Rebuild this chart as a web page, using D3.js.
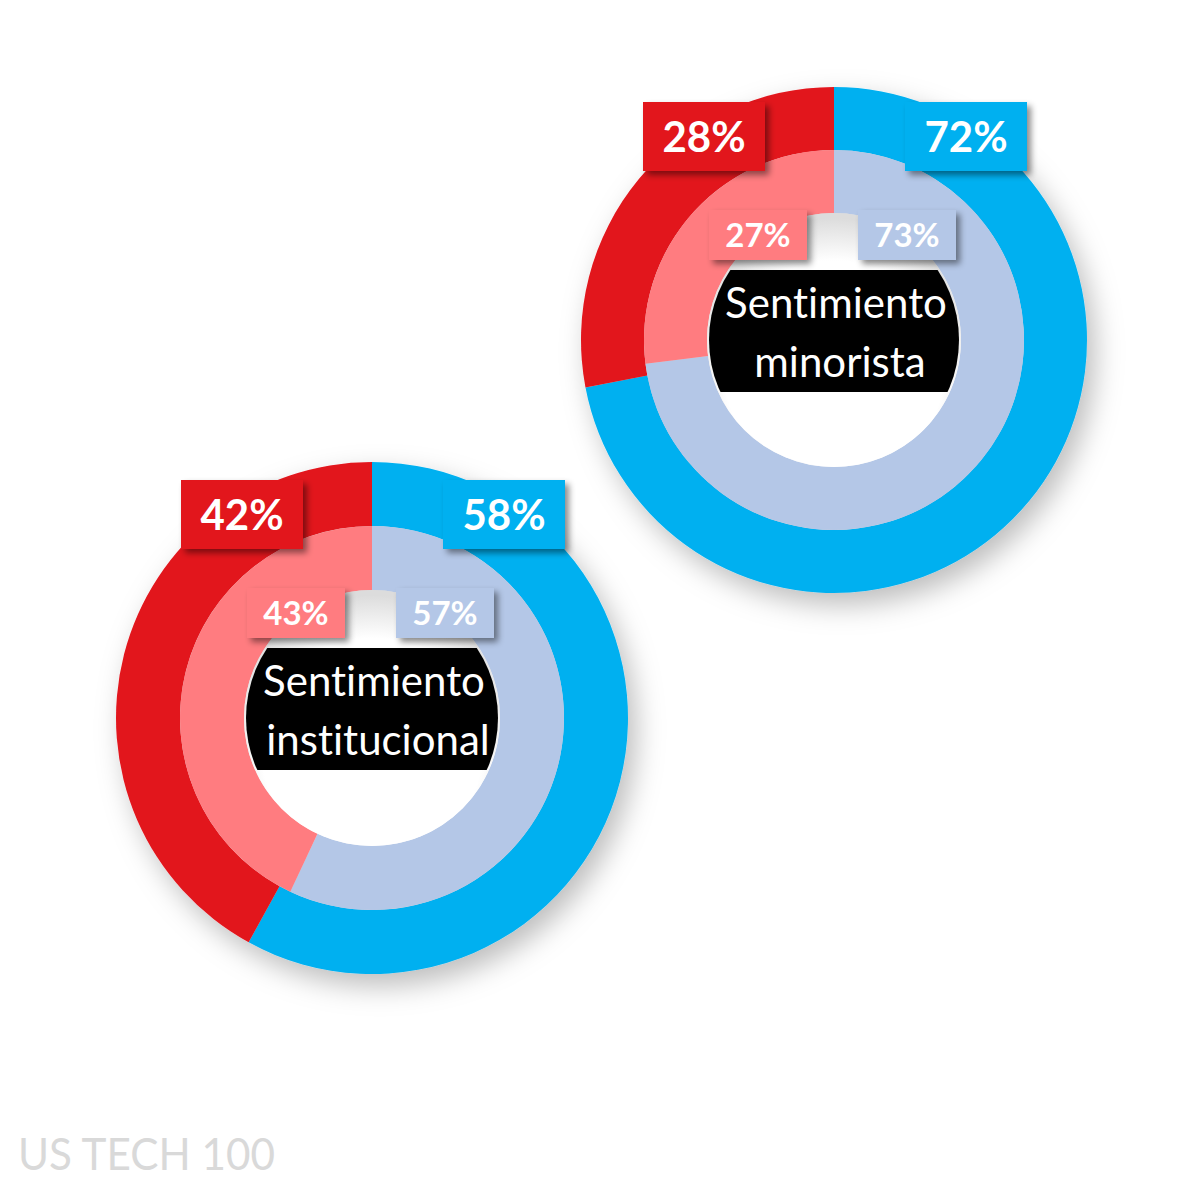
<!DOCTYPE html>
<html>
<head>
<meta charset="utf-8">
<script src="https://cdn.jsdelivr.net/npm/d3@7"></script>
<style>
  html, body { margin: 0; padding: 0; background: #fff; }
  svg { display: block; }
  text { font-variant-ligatures: none; font-feature-settings: "liga" 0, "clig" 0, "dlig" 0; }
</style>
</head>
<body>
<div id="chart"></div>
<script>
(function () {
  'use strict';

  // data
  const titles     = [['Sentimiento', 'minorista'], ['Sentimiento', 'institucional']];
  const outerSell  = [28, 42];
  const outerBuy   = [72, 58];
  const innerSell  = [27, 43];
  const innerBuy   = [73, 57];
  const footer     = 'US TECH 100';

  const W = 1181, H = 1181;
  const RED   = '#E2141C';
  const BLUE  = '#00B0F0';
  const PINK  = '#FF7C80';
  const LBLUE = '#B4C7E7';

  const CENTERS = [[834, 340], [372, 718]];
  const RADII   = [[253, 190, 127], [256, 192, 128]];

  const svg = d3.select('#chart').append('svg')
    .attr('width', W).attr('height', H)
    .attr('viewBox', `0 0 ${W} ${H}`);

  const defs = svg.append('defs');
  defs.append('filter').attr('id', 'ringShadow')
    .attr('x', '-30%').attr('y', '-30%').attr('width', '160%').attr('height', '160%')
    .append('feDropShadow')
    .attr('dx', 8).attr('dy', 12).attr('stdDeviation', 14)
    .attr('flood-color', '#000').attr('flood-opacity', 0.26);
  defs.append('filter').attr('id', 'boxShadow')
    .attr('x', '-20%').attr('y', '-20%').attr('width', '150%').attr('height', '160%')
    .append('feDropShadow')
    .attr('dx', 4).attr('dy', 4).attr('stdDeviation', 3)
    .attr('flood-color', '#000').attr('flood-opacity', 0.45);

  const pie = d3.pie().sort(null).value(d => d).startAngle(0).endAngle(2 * Math.PI);

  // label box geometry relative to donut centre
  const bigBox   = { w: 122, h: 69, y: -238 };
  const smallBox = { w: 98,  h: 50, y: -130 };

  function labelBox(g, cx, y, w, h, fill, text, size) {
    const b = g.append('g');
    b.append('rect')
      .attr('x', cx - w / 2).attr('y', y)
      .attr('width', w).attr('height', h)
      .attr('fill', fill)
      .attr('filter', 'url(#boxShadow)');
    b.append('text')
      .attr('x', cx).attr('y', y + h / 2)
      .attr('dy', '0.36em')
      .attr('text-anchor', 'middle')
      .attr('fill', '#fff')
      .attr('font-family', 'Lato, "Open Sans", sans-serif')
      .attr('font-weight', 700)
      .attr('font-size', size)
      .text(text);
  }

  titles.forEach((title, i) => {
    const [cx, cy] = CENTERS[i];
    const [rOut, rMid, rIn] = RADII[i];
    const arcOuter = d3.arc().innerRadius(rMid).outerRadius(rOut);
    const arcInner = d3.arc().innerRadius(rIn).outerRadius(rMid);
    const g = svg.append('g').attr('transform', `translate(${cx},${cy})`);

    const rings = g.append('g').attr('filter', 'url(#ringShadow)');
    rings.selectAll('path.outer')
      .data(pie([outerBuy[i], outerSell[i]]))
      .join('path')
      .attr('class', 'outer')
      .attr('d', arcOuter)
      .attr('fill', (d, j) => j === 0 ? BLUE : RED);
    rings.selectAll('path.inner')
      .data(pie([innerBuy[i], innerSell[i]]))
      .join('path')
      .attr('class', 'inner')
      .attr('d', arcInner)
      .attr('fill', (d, j) => j === 0 ? LBLUE : PINK);

    // soft inner shading of the hole, darker towards the top
    const gradId = 'hole' + i;
    const grad = defs.append('radialGradient').attr('id', gradId)
      .attr('cx', '50%').attr('cy', '62%').attr('r', '60%');
    grad.append('stop').attr('offset', '72%').attr('stop-color', '#fff');
    grad.append('stop').attr('offset', '100%').attr('stop-color', '#dcdcdc');
    g.append('circle').attr('r', rIn).attr('fill', `url(#${gradId})`);

    // black title band clipped by the hole
    const clipId = 'clip' + i;
    defs.append('clipPath').attr('id', clipId)
      .append('circle').attr('cx', cx).attr('cy', cy).attr('r', rIn - 2);
    svg.append('rect')
      .attr('x', cx - rIn).attr('y', cy - 70)
      .attr('width', rIn * 2).attr('height', 122)
      .attr('fill', '#000')
      .attr('clip-path', `url(#${clipId})`);

    const t = svg.append('text')
      .attr('text-anchor', 'middle')
      .attr('fill', '#fff')
      .attr('font-family', 'Lato, "Open Sans", sans-serif')
      .attr('font-size', 42);
    t.append('tspan').attr('x', cx + 2).attr('y', cy - 22).text(title[0]);
    t.append('tspan').attr('x', cx + 6).attr('y', cy + 37).text(title[1]);

    // percentage boxes
    const lg = g.append('g');
    labelBox(lg, -130, bigBox.y, bigBox.w, bigBox.h, RED, outerSell[i] + '%', 42);
    labelBox(lg, 132, bigBox.y, bigBox.w, bigBox.h, BLUE, outerBuy[i] + '%', 42);
    labelBox(lg, -76, smallBox.y, smallBox.w, smallBox.h, PINK, innerSell[i] + '%', 33);
    labelBox(lg, 73, smallBox.y, smallBox.w, smallBox.h, LBLUE, innerBuy[i] + '%', 33);
  });

  svg.append('text')
    .attr('x', 18).attr('y', 1170)
    .attr('fill', '#D9D9D9')
    .attr('font-family', 'Lato, "Open Sans", sans-serif')
    .attr('font-size', 45)
    .attr('textLength', 257)
    .attr('lengthAdjust', 'spacingAndGlyphs')
    .text(footer);
})();
</script>
</body>
</html>
